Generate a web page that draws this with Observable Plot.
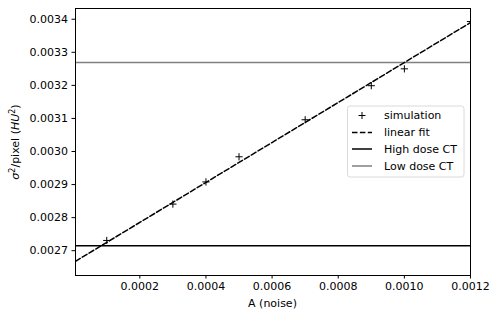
<!DOCTYPE html>
<html><head><meta charset="utf-8">
<script src="https://cdn.jsdelivr.net/npm/d3@7"></script>
<script src="https://cdn.jsdelivr.net/npm/@observablehq/plot@0.6"></script>
<style>body{margin:0;background:#fff;font-family:"DejaVu Sans",sans-serif;}</style>
</head><body><div id="chart"></div>
<script>
// Data
const noiseA = [0.0001, 0.0003, 0.0004, 0.0005, 0.0007, 0.0009, 0.0010, 0.0012];
const sigma2 = [0.002731, 0.002841, 0.002908, 0.002984, 0.003096, 0.003199, 0.003250, 0.003393];
const fitA = [0.0000055, 0.0012];
const fitSigma = [0.002668, 0.003390];
const highDose = 0.002715;
const lowDose = 0.003269;
const xTicks = [0.0002, 0.0004, 0.0006, 0.0008, 0.0010, 0.0012];
const yTicks = [0.0027, 0.0028, 0.0029, 0.0030, 0.0031, 0.0032, 0.0033, 0.0034];
const legendLabels = ["simulation", "linear fit", "High dose CT", "Low dose CT"];

const pts = noiseA.map((a, i) => ({a, s: sigma2[i]}));
const fit = fitA.map((a, i) => ({a, s: fitSigma[i]}));

const plusSymbol = {
  draw(ctx, size) {
    const r = Math.sqrt(size / Math.PI);
    ctx.moveTo(-r, 0); ctx.lineTo(r, 0);
    ctx.moveTo(0, -r); ctx.lineTo(0, r);
  }
};

const chart = Plot.plot({
  width: 498, height: 319,
  marginLeft: 75, marginRight: 28, marginTop: 8, marginBottom: 44,
  style: {fontFamily: "DejaVu Sans, sans-serif", fontSize: "11px", color: "#000", background: "#fff"},
  x: {domain: [0.0000055, 0.0012], ticks: xTicks, tickFormat: d3.format(".4f"), tickSize: 3.5, tickPadding: 3, label: null},
  y: {domain: [0.002625, 0.0034325], ticks: yTicks, tickFormat: d3.format(".4f"), tickSize: 3.5, tickPadding: 4, label: null},
  marks: [
    Plot.ruleY([highDose], {stroke: "#000", strokeWidth: 1.5}),
    Plot.ruleY([lowDose], {stroke: "#808080", strokeWidth: 1.5}),
    Plot.line(fit, {x: "a", y: "s", stroke: "#000", strokeWidth: 1.5, strokeDasharray: "5.5,2.4", clip: true}),
    Plot.dot(pts, {x: "a", y: "s", symbol: plusSymbol, r: 3.6, stroke: "#000", strokeWidth: 1, fill: "none", clip: true}),
    Plot.frame({stroke: "#000", strokeWidth: 1})
  ]
});
document.getElementById("chart").appendChild(chart);

const svg = d3.select(chart);
// axis labels
svg.append("text").attr("x", 75 + (470 - 75) / 2).attr("y", 307).attr("text-anchor", "middle")
  .attr("font-size", 11).attr("fill", "#000").text("A (noise)");
const yl = svg.append("text").attr("transform", "translate(19,142) rotate(-90)").attr("text-anchor", "middle")
  .attr("font-size", 11).attr("fill", "#000");
yl.append("tspan").attr("font-style", "italic").text("σ");
yl.append("tspan").attr("font-size", 8).attr("dy", -4).text("2");
yl.append("tspan").attr("dy", 4).text("/pixel (");
yl.append("tspan").attr("font-style", "italic").text("HU");
yl.append("tspan").attr("font-size", 8).attr("dy", -4).text("2");
yl.append("tspan").attr("dy", 4).text(")");

// legend
const lg = svg.append("g");
lg.append("rect").attr("x", 347.5).attr("y", 106).attr("width", 116.5).attr("height", 71)
  .attr("rx", 2.5).attr("fill", "#fff").attr("fill-opacity", 0.8).attr("stroke", "#d0d0d0").attr("stroke-width", 0.8);
const rowY = [115.5, 132.5, 149, 166];
legendLabels.forEach((t, i) => {
  lg.append("text").attr("x", 384).attr("y", rowY[i]).attr("dy", "0.35em").attr("text-anchor", "start")
    .attr("font-size", 11).attr("fill", "#000").text(t);
});
lg.append("path").attr("d", `M358.5,${rowY[0]}h7M362,${rowY[0]-3.5}v7`).attr("stroke", "#000").attr("stroke-width", 1);
lg.append("line").attr("x1", 352).attr("x2", 372).attr("y1", rowY[1]).attr("y2", rowY[1]).attr("stroke", "#000").attr("stroke-width", 1.5).attr("stroke-dasharray", "5.5,2.4");
lg.append("line").attr("x1", 352).attr("x2", 372).attr("y1", rowY[2]).attr("y2", rowY[2]).attr("stroke", "#000").attr("stroke-width", 1.5);
lg.append("line").attr("x1", 352).attr("x2", 372).attr("y1", rowY[3]).attr("y2", rowY[3]).attr("stroke", "#808080").attr("stroke-width", 1.5);
</script></body></html>
